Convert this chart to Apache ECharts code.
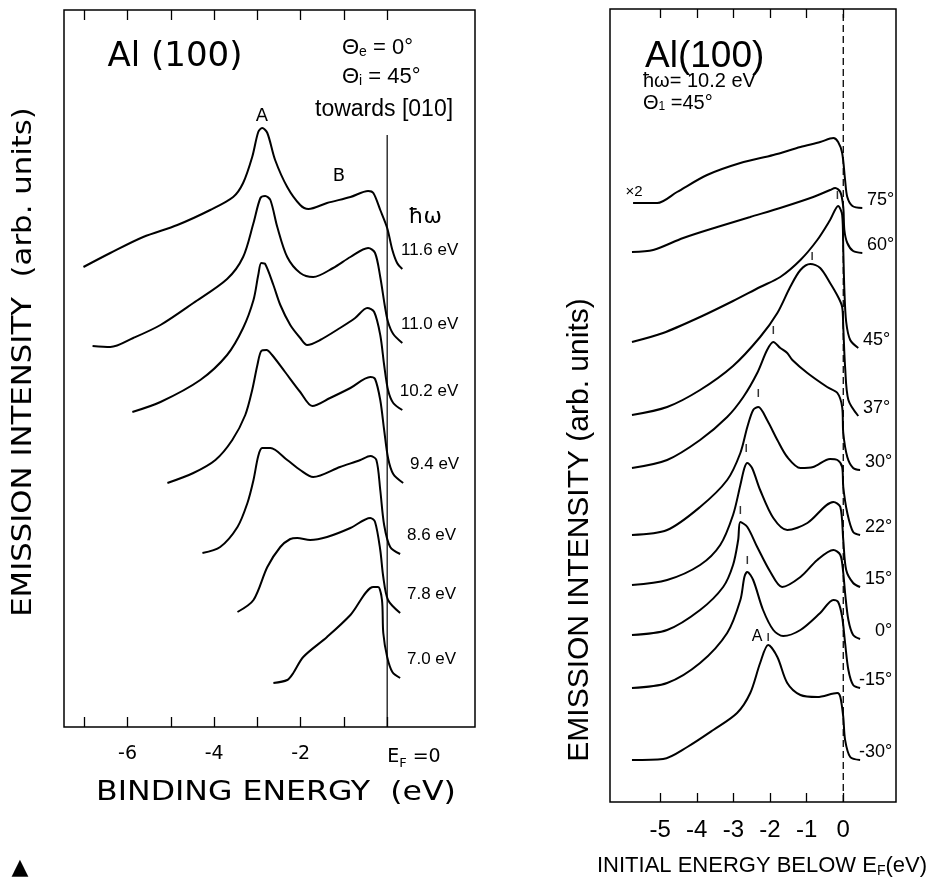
<!DOCTYPE html>
<html>
<head>
<meta charset="utf-8">
<script src="https://cdn.jsdelivr.net/npm/echarts@6/dist/echarts.min.js"></script>
<style>
  html, body { margin: 0; padding: 0; background: #fff; }
  #chart { width: 929px; height: 882px; }
</style>
</head>
<body>
<div id="chart"></div>
<script>
// left panel: spectra at different photon energies, [binding energy (eV), intensity (arb.)]
const hvLabels = ['11.6 eV', '11.0 eV', '10.2 eV', '9.4 eV', '8.6 eV', '7.8 eV', '7.0 eV']
const hv116 = [[-7.02,46.0],[-6.40,47.4],[-5.64,49.0],[-4.85,50.2],[-4.09,51.7],[-3.56,53.0],[-3.33,54.4],[-3.12,57.0],[-2.98,59.5],[-2.89,59.9],[-2.77,59.4],[-2.59,56.7],[-2.31,54.0],[-2.01,52.2],[-1.82,51.8],[-1.39,52.4],[-0.85,53.0],[-0.44,53.6],[-0.32,53.4],[-0.16,51.7],[0,49.9],[0.12,47.7],[0.23,46.4],[0.35,45.8]]
const hv110 = [[-6.81,38.1],[-6.40,38.0],[-5.87,38.9],[-5.24,40.2],[-4.48,42.4],[-3.70,44.8],[-3.33,47.0],[-3.09,50.4],[-2.93,52.9],[-2.82,53.1],[-2.70,52.7],[-2.54,50.0],[-2.31,47.0],[-2.01,45.4],[-1.71,45.0],[-1.25,45.9],[-0.85,47.0],[-0.44,47.9],[-0.28,47.4],[-0.16,45.0],[-0.05,42.0],[0.02,40.5],[0.14,39.3],[0.35,38.4]]
const hv102 = [[-5.89,31.5],[-5.24,32.5],[-4.32,34.7],[-3.70,37.2],[-3.33,39.9],[-3.09,42.7],[-2.98,45.2],[-2.91,46.4],[-2.82,46.3],[-2.63,44.2],[-2.47,42.2],[-2.24,40.2],[-2.01,38.9],[-1.85,38.2],[-1.55,38.7],[-1.09,39.9],[-0.74,40.9],[-0.46,41.9],[-0.30,41.5],[-0.16,39.2],[-0.07,36.2],[0.02,33.7],[0.14,32.4],[0.35,31.7]]
const hv94 = [[-5.08,24.4],[-4.48,25.4],[-3.97,26.7],[-3.58,28.7],[-3.28,31.2],[-3.12,33.7],[-3.00,36.2],[-2.91,37.6],[-2.79,37.7],[-2.66,37.2],[-2.36,35.5],[-2.01,33.5],[-1.73,32.1],[-1.32,32.9],[-0.85,33.9],[-0.39,35.0],[-0.28,34.8],[-0.16,32.7],[-0.07,29.7],[0.02,26.9],[0.14,25.3],[0.37,24.4]]
const hv86 = [[-4.27,17.4],[-3.86,18.0],[-3.46,20.0],[-3.23,22.4],[-3.09,24.7],[-2.98,27.1],[-2.89,27.9],[-2.70,27.9],[-2.31,26.7],[-2.01,25.7],[-1.71,25.0],[-1.09,26.0],[-0.62,26.7],[-0.39,27.1],[-0.25,26.7],[-0.16,23.7],[-0.07,20.2],[0.07,18.0],[0.30,17.3]]
const hv78 = [[-3.46,11.5],[-3.09,12.7],[-2.77,16.0],[-2.47,18.0],[-2.24,18.8],[-2.08,18.9],[-1.78,18.7],[-1.39,19.0],[-0.85,19.9],[-0.39,20.9],[-0.28,20.5],[-0.16,17.7],[-0.09,15.0],[0.02,12.7],[0.30,11.4]]
const hv70 = [[-2.63,4.4],[-2.31,4.7],[-2.17,5.4],[-1.94,7.0],[-1.39,9.0],[-0.85,11.2],[-0.32,14.0],[-0.21,14.0],[-0.12,12.7],[-0.09,9.4],[0,7.0],[0.12,5.5],[0.30,4.9]]

// right panel: spectra at different emission angles, [initial energy (eV), intensity (arb.)]
const angleLabels = ['75°', '60°', '45°', '37°', '30°', '22°', '15°', '0°', '-15°', '-30°']
const th75 = [[-5.74,59.9],[-5.08,59.9],[-4.54,61.0],[-3.72,62.7],[-2.81,63.9],[-1.91,64.7],[-1.17,65.5],[-0.63,66.0],[-0.27,66.4],[-0.14,66.0],[-0.03,64.9],[0.05,62.2],[0.11,60.5],[0.25,59.6],[0.52,59.4]]
const th60 = [[-5.77,55.0],[-5.19,55.2],[-4.37,56.4],[-3.44,57.5],[-2.54,58.5],[-1.64,59.5],[-0.82,60.5],[-0.36,61.2],[-0.22,61.4],[-0.08,61.0],[0,59.5],[0.03,57.2],[0.11,55.9],[0.27,55.1],[0.52,54.9]]
const th45 = [[-5.77,46.0],[-4.92,46.9],[-3.91,48.5],[-3.01,50.1],[-2.27,51.5],[-1.72,52.5],[-1.17,54.2],[-0.71,56.2],[-0.36,58.2],[-0.14,59.6],[-0.03,58.7],[0,55.2],[0.03,51.2],[0.08,48.0],[0.19,46.2],[0.41,45.4]]
const th37 = [[-5.77,38.7],[-4.81,39.5],[-3.91,41.2],[-3.01,43.6],[-2.27,46.5],[-1.80,48.9],[-1.45,51.5],[-1.17,53.2],[-0.90,53.8],[-0.63,53.4],[-0.36,51.9],[-0.14,50.5],[-0.03,49.5],[0,47.5],[0.05,43.5],[0.14,40.2],[0.41,38.6]]
const th30 = [[-5.77,33.4],[-4.81,34.2],[-3.91,36.2],[-3.17,38.5],[-2.73,40.5],[-2.35,42.9],[-2.08,45.2],[-1.91,46.0],[-1.72,45.4],[-1.53,44.9],[-1.39,44.2],[-0.98,42.9],[-0.44,41.5],[-0.16,40.9],[-0.03,39.5],[0,36.9],[0.11,34.5],[0.27,33.4],[0.46,33.2]]
const th22 = [[-5.77,26.7],[-4.81,27.2],[-3.91,29.5],[-3.17,32.2],[-2.81,34.9],[-2.62,37.5],[-2.46,39.2],[-2.32,39.5],[-2.08,38.2],[-1.80,36.2],[-1.53,34.5],[-1.17,33.4],[-0.82,33.5],[-0.36,34.3],[-0.16,34.2],[-0.03,33.5],[0,31.5],[0.11,28.9],[0.27,27.0],[0.46,26.7]]
const th15 = [[-5.77,21.7],[-4.81,22.2],[-3.91,23.7],[-3.36,25.7],[-3.01,28.7],[-2.81,31.7],[-2.70,33.4],[-2.62,33.9],[-2.49,33.4],[-2.27,31.2],[-1.91,28.4],[-1.53,27.2],[-0.98,27.9],[-0.27,30.0],[-0.08,29.5],[0,26.2],[0.08,23.2],[0.27,21.9],[0.46,21.5]]
const th0 = [[-5.77,16.7],[-4.81,17.2],[-3.91,19.2],[-3.28,21.5],[-3.01,23.7],[-2.87,26.2],[-2.81,28.0],[-2.62,27.5],[-2.35,25.5],[-1.99,23.0],[-1.67,21.5],[-1.17,22.5],[-0.71,24.2],[-0.27,25.2],[-0.08,24.7],[0,22.9],[0.05,20.9],[0.14,18.2],[0.27,16.7],[0.46,16.3]]
const thm15 = [[-5.77,11.4],[-4.81,11.9],[-3.91,13.9],[-3.17,16.9],[-2.81,20.2],[-2.70,22.5],[-2.62,23.0],[-2.46,22.2],[-2.19,19.2],[-1.91,17.2],[-1.64,16.6],[-1.17,17.2],[-0.63,18.9],[-0.27,20.2],[-0.14,20.0],[-0.03,18.5],[0.05,15.9],[0.14,13.2],[0.27,11.7],[0.46,11.4]]
const thm30 = [[-5.77,4.2],[-4.92,4.3],[-4.26,5.5],[-3.55,7.2],[-2.90,8.9],[-2.54,10.9],[-2.27,13.9],[-2.05,15.7],[-1.80,14.5],[-1.53,11.9],[-1.17,10.7],[-0.71,10.5],[-0.16,10.9],[-0.08,10.5],[0,8.5],[0.05,6.2],[0.19,4.5],[0.46,4.2]]
// small bars marking the peak A positions
const peakMarks = [[-0.16,60.7],[-0.85,54.6],[-1.91,47.2],[-2.32,40.9],[-2.65,35.4],[-2.81,29.2],[-2.62,24.2],[-2.05,16.5]]

// ticks and labels
const leftTicks = [-7, -6, -5, -4, -3, -2, -1, 0]
const leftTickLabels = [-6, -4, -2, 0]
const rightTicks = [-5, -4, -3, -2, -1, 0]
const rightTickLabels = [-5, -4, -3, -2, -1, 0]

const leftSpectra = [hv116, hv110, hv102, hv94, hv86, hv78, hv70]
const rightSpectra = [th75, th60, th45, th37, th30, th22, th15, th0, thm15, thm30]

const LIB = 'Liberation Sans'
const DJV = 'DejaVu Sans'

function spectrum(name, data, xi, yi, labelOpt) {
    return {
        name: name,
        type: 'line',
        xAxisIndex: xi,
        yAxisIndex: yi,
        data: data,
        smooth: 0.3,
        symbol: 'none',
        lineStyle: {color: '#000', width: 2},
        endLabel: Object.assign({show: true, formatter: p => p.seriesName, color: '#000'}, labelOpt)
    }
}

function tickAxis(grid, pos, min, max, ticks, len) {
    return {
        gridIndex: grid, type: 'value', position: pos, min: min, max: max,
        axisLine: {show: false}, splitLine: {show: false},
        axisTick: {inside: true, length: len, customValues: ticks, lineStyle: {color: '#000', width: 1.3}},
        axisLabel: {show: false}
    }
}

const chart = echarts.init(document.getElementById('chart'))

const series = []
leftSpectra.forEach((d, i) => {
    series.push(spectrum(hvLabels[i], d, 0, 0, {fontFamily: LIB, fontSize: 17, align: 'right', offset: [48, -19]}))
})
// Fermi level marker (left)
series.push({type: 'line', xAxisIndex: 0, yAxisIndex: 0, data: [[0, 0], [0, 59.2]], symbol: 'none',
    lineStyle: {color: '#000', width: 1.2}})
rightSpectra.forEach((d, i) => {
    series.push(spectrum(angleLabels[i], d, 2, 1, {fontFamily: LIB, fontSize: 18, align: 'right', offset: [24, -8]}))
})
// Fermi level marker (right, dashed)
series.push({type: 'line', xAxisIndex: 2, yAxisIndex: 1, data: [[0, 0], [0, 79.3]], symbol: 'none',
    lineStyle: {color: '#000', width: 1.3, type: [7, 4]}})
series.push({type: 'scatter', xAxisIndex: 2, yAxisIndex: 1, data: peakMarks, symbol: 'rect',
    symbolSize: [1.5, 8], itemStyle: {color: '#000'}})

chart.setOption({
    animation: false,
    backgroundColor: '#fff',
    grid: [
        {left: 64, top: 10, width: 411, height: 717, show: true, borderColor: '#000', borderWidth: 1.5},
        {left: 610, top: 9, width: 286, height: 793, show: true, borderColor: '#000', borderWidth: 1.5}
    ],
    xAxis: [
        {
            gridIndex: 0, type: 'value', min: -7.47, max: 2.03,
            axisLine: {show: false}, splitLine: {show: false},
            axisTick: {inside: true, length: 10, customValues: leftTicks, lineStyle: {color: '#000', width: 1.3}},
            axisLabel: {
                customValues: leftTickLabels, margin: 18, color: '#000', fontFamily: DJV, fontSize: 19,
                alignMaxLabel: 'left',
                formatter: v => v === 0 ? '{e|E}{f|F}{e| =0}' : String(v),
                rich: {
                    e: {fontFamily: DJV, fontSize: 19, color: '#000'},
                    f: {fontFamily: DJV, fontSize: 13, color: '#000', padding: [12, 0, 0, 0]}
                }
            }
        },
        tickAxis(0, 'top', -7.47, 2.03, leftTicks, 10),
        {
            gridIndex: 1, type: 'value', min: -6.37, max: 1.44,
            axisLine: {show: false}, splitLine: {show: false},
            axisTick: {inside: true, length: 9, customValues: rightTicks, lineStyle: {color: '#000', width: 1.3}},
            axisLabel: {customValues: rightTickLabels, margin: 16, color: '#000', fontFamily: LIB, fontSize: 24}
        },
        tickAxis(1, 'top', -6.37, 1.44, rightTicks, 9)
    ],
    yAxis: [
        {gridIndex: 0, type: 'value', min: 0, max: 71.7, show: false},
        {gridIndex: 1, type: 'value', min: 0, max: 79.3, show: false}
    ],
    graphic: [
        // left panel texts
        {type: 'text', x: 175, y: 57, style: {text: 'Al (100)', fontFamily: DJV, fontSize: 34, fill: '#000', align: 'center', verticalAlign: 'middle'}},
        {type: 'text', x: 342, y: 48, style: {text: 'Θ{s|e} = 0°', fontFamily: LIB, fontSize: 22, fill: '#000', verticalAlign: 'middle',
            rich: {s: {fontFamily: LIB, fontSize: 14, padding: [9, 0, 0, 0]}}}},
        {type: 'text', x: 342, y: 77, style: {text: 'Θ{s|i} = 45°', fontFamily: LIB, fontSize: 22, fill: '#000', verticalAlign: 'middle',
            rich: {s: {fontFamily: LIB, fontSize: 14, padding: [9, 0, 0, 0]}}}},
        {type: 'text', x: 315, y: 110, style: {text: 'towards [010]', fontFamily: LIB, fontSize: 23, fill: '#000', verticalAlign: 'middle'}},
        {type: 'text', x: 262, y: 116, style: {text: 'A', fontFamily: DJV, fontSize: 18, fill: '#000', align: 'center', verticalAlign: 'middle'}},
        {type: 'text', x: 339, y: 176, style: {text: 'B', fontFamily: DJV, fontSize: 18, fill: '#000', align: 'center', verticalAlign: 'middle'}},
        {type: 'text', x: 425, y: 217, style: {text: 'ħω', fontFamily: DJV, fontSize: 22, fill: '#000', align: 'center', verticalAlign: 'middle'}},
        {type: 'text', x: 24, y: 362, rotation: Math.PI / 2, scaleX: 1.14,
            style: {text: 'EMISSION INTENSITY  (arb. units)', fontFamily: DJV, fontSize: 27, fill: '#000', align: 'center', verticalAlign: 'middle'}},
        {type: 'text', x: 276, y: 793, scaleX: 1.17,
            style: {text: 'BINDING ENERGY  (eV)', fontFamily: DJV, fontSize: 27, fill: '#000', align: 'center', verticalAlign: 'middle'}},
        // right panel texts
        {type: 'text', x: 645, y: 57, style: {text: 'Al(100)', fontFamily: LIB, fontSize: 37, fill: '#000', verticalAlign: 'middle'}},
        {type: 'text', x: 643, y: 81, style: {text: 'ħω= 10.2 eV', fontFamily: LIB, fontSize: 20, fill: '#000', verticalAlign: 'middle'}},
        {type: 'text', x: 643, y: 103, style: {text: 'Θ{s|1} =45°', fontFamily: LIB, fontSize: 20, fill: '#000', verticalAlign: 'middle',
            rich: {s: {fontFamily: LIB, fontSize: 12, padding: [8, 0, 0, 0]}}}},
        {type: 'text', x: 634, y: 192, style: {text: '×2', fontFamily: LIB, fontSize: 15, fill: '#000', align: 'center', verticalAlign: 'middle'}},
        {type: 'text', x: 757, y: 637, style: {text: 'A', fontFamily: LIB, fontSize: 16, fill: '#000', align: 'center', verticalAlign: 'middle'}},
        {type: 'text', x: 580, y: 530, rotation: Math.PI / 2,
            style: {text: 'EMISSION INTENSITY (arb. units)', fontFamily: LIB, fontSize: 30, fill: '#000', align: 'center', verticalAlign: 'middle'}},
        {type: 'text', x: 762, y: 866,
            style: {text: 'INITIAL ENERGY BELOW E{s|F}(eV)', fontFamily: LIB, fontSize: 22, fill: '#000', align: 'center', verticalAlign: 'middle',
            rich: {s: {fontFamily: LIB, fontSize: 14, padding: [10, 0, 0, 0]}}}},
        {type: 'text', x: 20, y: 868, style: {text: '▲', fontFamily: DJV, fontSize: 22, fill: '#000', align: 'center', verticalAlign: 'middle'}}
    ],
    series: series
})
</script>
</body>
</html>
